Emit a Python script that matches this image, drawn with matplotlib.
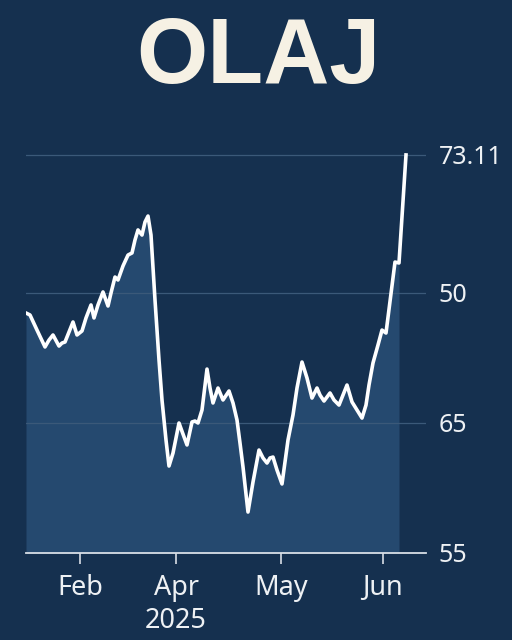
import matplotlib
matplotlib.use("Agg")
import matplotlib.pyplot as plt

title = "OLAJ"
day = [0, 4, 11, 19, 23, 27, 33, 36, 39, 43, 47, 51, 56, 60, 65, 68, 72, 77, 82, 85,
       89, 92, 97, 102, 106, 109, 112, 116, 119, 122, 125, 129, 133, 136, 140, 143,
       147, 153, 157, 161, 166, 169, 172, 176, 181, 184, 187, 192, 197, 203, 207,
       211, 214, 217, 222, 227, 233, 237, 241, 244, 247, 251, 256, 259, 262, 267,
       271, 276, 281, 286, 291, 294, 298, 304, 308, 313, 317, 321, 326, 331, 336,
       340, 343, 347, 352, 356, 360, 369, 373, 380]
price = [73.46, 73.31, 72.15, 70.85, 71.38, 71.77, 70.92, 71.15, 71.23, 72.00,
         72.77, 71.77, 72.08, 73.08, 74.08, 73.08, 74.08, 75.08, 74.00, 75.00,
         76.23, 76.00, 77.08, 77.92, 78.08, 79.08, 79.85, 79.46, 80.46, 80.92,
         79.46, 74.46, 69.85, 66.77, 63.69, 61.69, 62.69, 65.00, 64.15, 63.31,
         65.08, 65.15, 65.00, 66.00, 69.15, 67.69, 66.54, 67.69, 66.77, 67.46,
         66.54, 65.23, 63.46, 61.62, 58.15, 60.46, 62.92, 62.31, 61.92, 62.31,
         62.38, 61.38, 60.31, 62.00, 63.69, 65.62, 67.69, 69.69, 68.46, 66.92,
         67.69, 67.15, 66.69, 67.31, 66.77, 66.38, 67.15, 67.92, 66.62, 66.00,
         65.38, 66.38, 67.92, 69.62, 71.00, 72.15, 71.92, 77.38, 77.31, 85.62]
x_tick_pos = [54, 150, 255, 357]
x_tick_labels = ["Feb", "Apr\n2025", "May", "Jun"]
y_tick_pos = [55, 65, 75, 85.62]
y_tick_labels = ["55", "65", "50", "73.11"]

BG = "#15304f"
FILL = "#25496f"
TXT = "#eef1f4"
TITLE = "#f6f1e4"
GRID = "#3b5979"

fig = plt.figure(figsize=(5.12, 6.4), dpi=100, facecolor=BG)
ax = fig.add_axes([26/512, 1-553/640, 400/512, (553-150)/640])
ax.set_facecolor(BG)

ax.fill_between(day[:-1], price[:-1], 55, color=FILL, lw=0, zorder=1)
ax.plot(day, price, color="white", lw=2.6, zorder=3, solid_joinstyle="round")

ax.set_xlim(0, 400)
ax.set_ylim(55, 86.0)

for yv in y_tick_pos[1:]:
    ax.axhline(yv, color=GRID, lw=0.9, zorder=2)

ax.yaxis.tick_right()
ax.set_yticks(y_tick_pos)
ax.set_yticklabels(y_tick_labels)
ax.set_xticks(x_tick_pos)
ax.set_xticklabels(x_tick_labels, linespacing=1.25)

for s in ["top", "left", "right"]:
    ax.spines[s].set_visible(False)
ax.spines["bottom"].set_color("#d8dee6")
ax.spines["bottom"].set_linewidth(1.3)

ax.tick_params(axis="y", length=0, pad=9, labelsize=18, labelcolor=TXT)
ax.tick_params(axis="x", length=8, width=1.2, color="#d8dee6", pad=7,
               labelsize=19.5, labelcolor=TXT)
for lab in ax.get_xticklabels() + ax.get_yticklabels():
    lab.set_family("Noto Sans")

fig.text(0.504, 1-83/640, title, ha="center", va="baseline", fontsize=66,
         fontweight="bold", color=TITLE, family="Liberation Sans")

fig.savefig("out.png", dpi=100, facecolor=BG)
